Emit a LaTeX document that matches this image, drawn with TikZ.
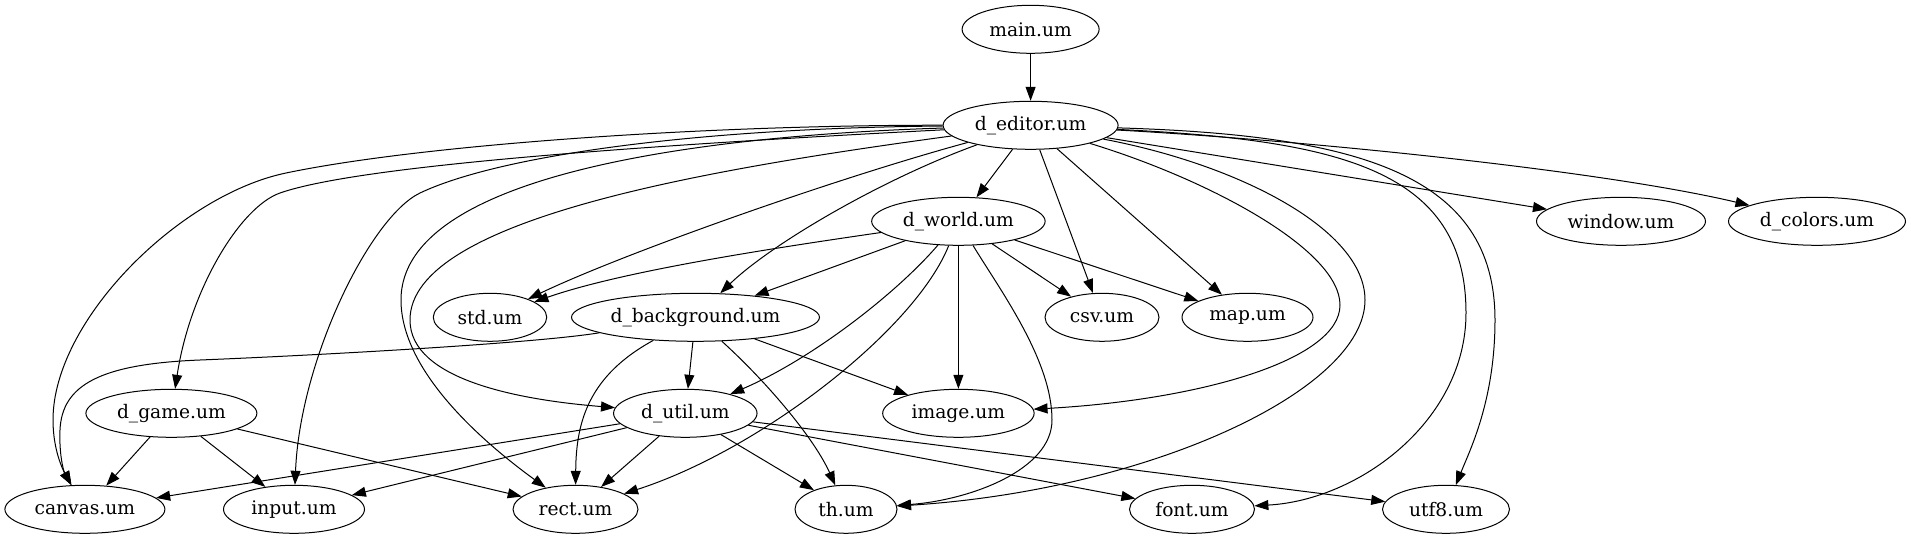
\documentclass[tikz,border=0pt]{standalone}
\usepackage{fontspec}
\setmainfont{DejaVu Serif}
\usetikzlibrary{shapes.geometric,arrows.meta}
\tikzset{
  nd/.style={draw, ellipse, line width=0.75pt, inner sep=0pt, minimum height=36pt,
             font=\fontsize{14pt}{16pt}\selectfont},
  arr/.style={draw, line width=0.75pt, -{Triangle[length=10.5pt,width=7.5pt]}},
}
\begin{document}
\begin{tikzpicture}[x=0.75pt, y=-0.75pt]
\fill[white] (0,0) rectangle (1911,539);
\useasboundingbox (0,0) rectangle (1911,539);
% nodes
\node[nd, minimum width=102.75pt] (main)   at (1030.6,29.3)  {main.um};
\node[nd, minimum width=131.25pt] (ed)     at (1030.6,125.3) {d\_editor.um};
\node[nd, minimum width=130.1pt]  (world)  at (958.4,221.3)  {d\_world.um};
\node[nd, minimum width=126.75pt] (window) at (1621,221.3)   {window.um};
\node[nd, minimum width=132.75pt] (colors) at (1817,221.3)   {d\_colors.um};
\node[nd, minimum width=85.1pt]   (std)    at (490,317.3)    {std.um};
\node[nd, minimum width=186pt]    (dbg)    at (695.5,317.3)  {d\_background.um};
\node[nd, minimum width=85.5pt]   (csv)    at (1102,317.3)   {csv.um};
\node[nd, minimum width=98.25pt]  (map)    at (1247.5,317.3) {map.um};
\node[nd, minimum width=128.25pt] (game)   at (171.4,413.3)  {d\_game.um};
\node[nd, minimum width=107.6pt]  (util)   at (685.3,413.3)  {d\_util.um};
\node[nd, minimum width=113.6pt]  (image)  at (958.4,413.3)  {image.um};
\node[nd, minimum width=120pt]    (canvas) at (84.9,509.3)   {canvas.um};
\node[nd, minimum width=105.75pt] (input)  at (294,509.3)    {input.um};
\node[nd, minimum width=93.75pt]  (rect)   at (575.5,509.3)  {rect.um};
\node[nd, minimum width=76.5pt]   (th)     at (846,509.3)    {th.um};
\node[nd, minimum width=93.75pt]  (font)   at (1192,509.3)   {font.um};
\node[nd, minimum width=95.25pt]  (utf8)   at (1446,509.3)   {utf8.um};
% main
\draw[arr] (main) -- (ed);
% d_editor
\draw[arr] (ed) -- (world);
\draw[arr] (ed) -- (window);
\draw[arr] (ed) .. controls (1300,140) and (1600,170) .. (colors);
\draw[arr] (ed) .. controls (830,180) and (620,255) .. (std);
\draw[arr] (ed) .. controls (880,180) and (770,245) .. (dbg);
\draw[arr] (ed) -- (csv);
\draw[arr] (ed) -- (map);
\draw[arr] (ed) .. controls (1210,180) and (1340,250) .. (1340,305) .. controls (1340,360) and (1200,400) .. (image);
\draw[arr] (ed) .. controls (1240,165) and (1365,230) .. (1365,300) .. controls (1365,390) and (1150,490) .. (th);
\draw[arr] (ed) .. controls (1340,140) and (1466,170) .. (1466,313) .. controls (1466,420) and (1360,500) .. (font);
\draw[arr] (ed) .. controls (1360,135) and (1495,175) .. (1495,320) .. controls (1495,400) and (1470,450) .. (utf8);
\draw[arr] (ed) .. controls (700,125) and (420,145) .. (286,173) .. controls (180,195) and (53,320) .. (53,420) .. controls (53,450) and (63,470) .. (canvas);
\draw[arr] (ed) .. controls (650,145) and (360,165) .. (280,193) .. controls (240,207) and (190,290) .. (game);
\draw[arr] (ed) .. controls (700,128) and (500,155) .. (420,193) .. controls (370,217) and (300,360) .. (input);
\draw[arr] (ed) .. controls (720,135) and (401,170) .. (401,300) .. controls (401,370) and (480,440) .. (rect);
\draw[arr] (ed) .. controls (700,170) and (410,220) .. (410,320) .. controls (410,380) and (520,400) .. (util);
% d_world
\draw[arr] (world) .. controls (760,250) and (620,272) .. (std);
\draw[arr] (world) -- (dbg);
\draw[arr] (world) .. controls (895,295) and (810,360) .. (util);
\draw[arr] (world) .. controls (915,330) and (760,450) .. (rect);
\draw[arr] (world) -- (image);
\draw[arr] (world) .. controls (1000,290) and (1052,360) .. (1052,420) .. controls (1052,470) and (970,500) .. (th);
\draw[arr] (world) -- (csv);
\draw[arr] (world) -- (map);
% d_background
\draw[arr] (dbg) .. controls (530,344) and (300,356) .. (200,360) .. controls (100,364) and (62,385) .. (60,430) .. controls (59,452) and (63,470) .. (canvas);
\draw[arr] (dbg) -- (util);
\draw[arr] (dbg) .. controls (590,375) and (576,420) .. (rect);
\draw[arr] (dbg) .. controls (770,385) and (815,440) .. (th);
\draw[arr] (dbg) -- (image);
% d_util
\draw[arr] (util) -- (canvas);
\draw[arr] (util) -- (input);
\draw[arr] (util) -- (rect);
\draw[arr] (util) -- (th);
\draw[arr] (util) -- (font);
\draw[arr] (util) -- (utf8);
% d_game
\draw[arr] (game) -- (canvas);
\draw[arr] (game) -- (input);
\draw[arr] (game) -- (rect);
\end{tikzpicture}
\end{document}
